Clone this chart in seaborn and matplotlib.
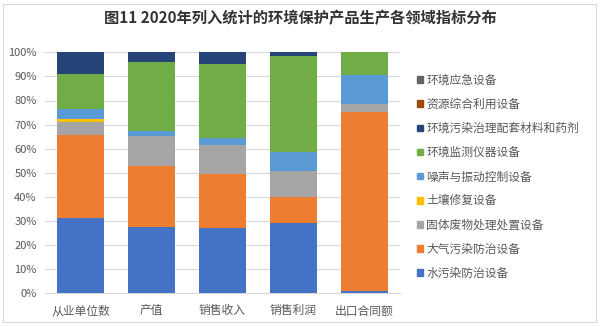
import numpy as np
import pandas as pd
import matplotlib
matplotlib.use("Agg")
import matplotlib.pyplot as plt
import matplotlib.patches as mpatches
import seaborn as sns

categories = ["从业单位数", "产值", "销售收入", "销售利润", "出口合同额"]

# series in stacking order, bottom to top (percent)
water   = [31.4, 27.5, 27.0, 29.2, 1.1]    # 水污染防治设备
air     = [34.2, 25.3, 22.5, 10.6, 74.0]   # 大气污染防治设备
solid   = [5.5, 12.5, 12.2, 10.8, 3.4]     # 固体废物处理处置设备
soil    = [1.1, 0.0, 0.0, 0.0, 0.0]        # 土壤修复设备
noise   = [4.1, 1.9, 2.7, 8.2, 12.2]       # 噪声与振动控制设备
monitor = [14.6, 28.8, 30.9, 39.8, 9.3]    # 环境监测仪器设备
material= [9.1, 4.0, 4.7, 1.4, 0.0]        # 环境污染治理配套材料和药剂
resource= [0.0, 0.0, 0.0, 0.0, 0.0]        # 资源综合利用设备
emergency=[0.0, 0.0, 0.0, 0.0, 0.0]        # 环境应急设备

series_names = ["水污染防治设备", "大气污染防治设备", "固体废物处理处置设备", "土壤修复设备",
                "噪声与振动控制设备", "环境监测仪器设备", "环境污染治理配套材料和药剂",
                "资源综合利用设备", "环境应急设备"]
series_values = [water, air, solid, soil, noise, monitor, material, resource, emergency]
colors = ["#4472C4", "#ED7D31", "#A5A5A5", "#FFC000", "#5B9BD5", "#70AD47",
          "#264478", "#9E480E", "#636363"]

ytick_labels = ["0%", "10%", "20%", "30%", "40%", "50%", "60%", "70%", "80%", "90%", "100%"]

sns.set_theme(style="white")
plt.rcParams["font.family"] = ["Noto Sans CJK SC", "DejaVu Sans"]

fig = plt.figure(figsize=(6, 3.27), dpi=100)
ax = fig.add_axes([45/600, 1-293.3/327, 355/600, 241/327])

vals = np.array(series_values)
cum = np.cumsum(vals, axis=0)
# draw tallest cumulative first so lower segments overlay
for i in range(len(series_names)-1, -1, -1):
    df = pd.DataFrame({"cat": categories, "val": cum[i]})
    sns.barplot(data=df, x="cat", y="val", color=colors[i], width=0.65,
                saturation=1, ax=ax, zorder=3, linewidth=0)

ax.set_ylim(0, 100)
ax.set_xlim(-0.5, 4.5)
ax.set_yticks(np.arange(0, 101, 10))
ax.set_yticklabels(ytick_labels)
ax.set_xlabel("")
ax.set_ylabel("")
ax.yaxis.grid(True, color="#D9D9D9", linewidth=0.8, zorder=0)
ax.set_axisbelow(True)
for s in ["top", "right", "left"]:
    ax.spines[s].set_visible(False)
ax.spines["bottom"].set_color("#D9D9D9")
ax.spines["bottom"].set_linewidth(0.8)
ax.tick_params(axis="both", length=0, labelcolor="#595959")
ax.tick_params(axis="y", pad=6, labelsize=8)
ax.tick_params(axis="x", pad=8, labelsize=8.5)

handles = [mpatches.Patch(color=colors[i], label=series_names[i])
           for i in range(len(series_names)-1, -1, -1)]
fig.legend(handles=handles, loc="upper left", bbox_to_anchor=(411/600, 1-68/327),
           frameon=False, fontsize=8.5, labelcolor="#595959",
           handlelength=0.5, handleheight=0.5, handletextpad=0.3,
           labelspacing=0.94, borderpad=0)

fig.text(0.5, 1-18/327, "图11 2020年列入统计的环境保护产品生产各领域指标分布",
         ha="center", va="center", fontsize=11, fontweight="bold", color="#333333")

fig.patches.append(mpatches.Rectangle((3/600, 1-322/327), 593/600, 318/327,
                                      transform=fig.transFigure, fill=False,
                                      edgecolor="#D9D9D9", linewidth=0.8))

fig.savefig("out.png", dpi=100, facecolor="white")
